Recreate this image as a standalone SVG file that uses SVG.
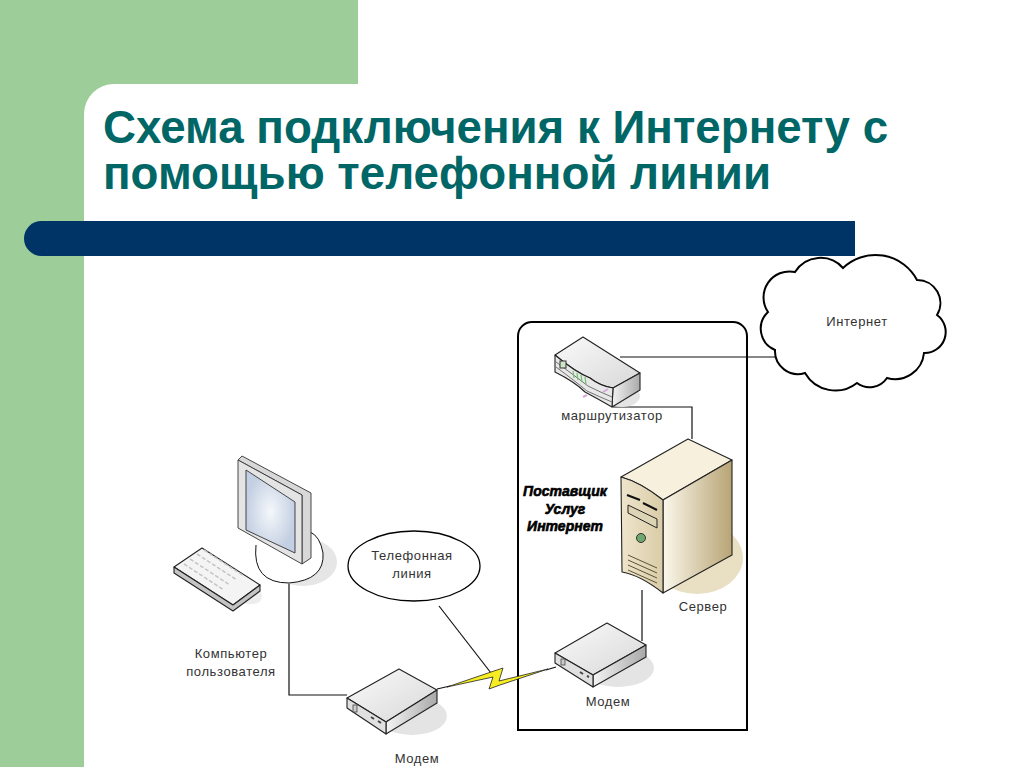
<svg xmlns="http://www.w3.org/2000/svg" width="1024" height="767" viewBox="0 0 1024 767">
<style>
.title{font:bold 45.7px "Liberation Sans",Arial,sans-serif;fill:#006666}
.lbl{font:13px "Liberation Sans",Arial,sans-serif;fill:#333;text-anchor:middle;letter-spacing:.6px}
.prov{font:italic bold 14px "Liberation Sans",Arial,sans-serif;fill:#000;stroke:#000;stroke-width:.6;text-anchor:middle}
.out{stroke:#222;stroke-width:1.1;stroke-linejoin:round}
.con{fill:none;stroke:#111;stroke-width:1.2}
</style>
<defs>
<linearGradient id="top" x1="0" y1="0" x2="1" y2="1"><stop offset="0" stop-color="#fafafa"/><stop offset="1" stop-color="#d8d8d8"/></linearGradient>
<linearGradient id="side" x1="0" y1="0" x2="1" y2="0"><stop offset="0" stop-color="#f4f4f4"/><stop offset="1" stop-color="#a9a9a9"/></linearGradient>
<linearGradient id="tan" x1="0" y1="0" x2="1" y2="0"><stop offset="0" stop-color="#efe5cb"/><stop offset="1" stop-color="#d9cca8"/></linearGradient>
<linearGradient id="tanr" x1="0" y1="0" x2="1" y2="0"><stop offset="0" stop-color="#fbf7ea"/><stop offset="1" stop-color="#b8a475"/></linearGradient>
<radialGradient id="scr"><stop offset="0" stop-color="#f5f8fb"/><stop offset="1" stop-color="#c3cfe2"/></radialGradient>
</defs>
<rect width="1024" height="767" fill="#fff"/>
<g id="background">
<path d="M0 0H358V84H114A30 30 0 0 0 84 114V767H0Z" fill="#9dcd99"/>
<path d="M41.500 221H855V256H41.500A17.500 17.500 0 0 1 41.500 221Z" fill="#003366"/>
</g>
<g id="title">
<text class="title" x="103" y="143">Схема подключения к Интернету с</text>
<text class="title" x="103" y="189">помощью телефонной линии</text>
</g>
<g id="connectors">
<path class="con" d="M289 583V695H347"/>
<path class="con" d="M613 407H692V439"/>
<path class="con" d="M620 357H776" stroke="#444" stroke-width="1"/>
<path class="con" d="M642 590V641" stroke="#555"/>
<path class="con" d="M439 606L491 673" stroke-width="1"/>
<path class="con" d="M437 689L450 686M546 670L556 667" stroke-width="1.500"/>
</g>
<g id="provider-box">
<path d="M518 730V336A14 14 0 0 1 532 322H733A14 14 0 0 1 747 336V730Z" fill="none" stroke="#000" stroke-width="2"/>
<text class="prov" x="565" y="496">Поставщик</text>
<text class="prov" x="565" y="514">Услуг</text>
<text class="prov" x="565" y="531">Интернет</text>
</g>
<g id="internet">
<path d="M768 312A26 26 0 0 1 795 272A30 30 0 0 1 843 268A47 47 0 0 1 917 280A23 23 0 0 1 937 315A21 21 0 0 1 924 353A29 29 0 0 1 887 378A21 21 0 0 1 857 383A35 35 0 0 1 805 373A23 23 0 0 1 775 350A23 23 0 0 1 768 312Z" fill="#fff" stroke="#000" stroke-width="2"/>
<text class="lbl" x="857" y="326">Интернет</text>
</g>
<g id="router">
<ellipse cx="622" cy="396" rx="18" ry="11" fill="#e4e4e4"/>
<path class="out" d="M583 337L640 373L613 388Q600 386 590 378Q575 372 555 355Z" fill="url(#top)"/>
<path class="out" d="M640 373V390L612 407L613 388Z" fill="url(#side)"/>
<path class="out" d="M555 355V372Q575 382 585 392Q600 400 612 407L613 388Q600 386 590 378Q575 372 555 355Z" fill="#e8e8e8"/>
<path d="M556 362Q575 376 588 386Q600 392 612 397M556 367Q575 381 587 391Q600 397 612 402" fill="none" stroke="#555" stroke-width=".8"/>
<rect x="560" y="361" width="6" height="7" fill="#cde4c8" stroke="#333" stroke-width="1"/>
<path d="M573 371l1 7M577 373l1 7M581 375l1 7M585 377l1 7" stroke="#6fc06f" stroke-width="1.200"/>
<path d="M603 392l5-3M583 397l4-2" stroke="#d8a8d8" stroke-width="2"/>
<text class="lbl" x="612" y="420">маршрутизатор</text>
</g>
<g id="server">
<ellipse cx="697" cy="558" rx="46" ry="36" fill="#e9e0c4"/>
<path class="out" d="M688 439L732 460L663 500Q640 482 621 477Z" fill="#f6f0dc"/>
<path class="out" d="M732 460V555L663 593V500Z" fill="url(#tanr)"/>
<path class="out" d="M621 477Q640 482 663 500V593Q640 575 622 572Z" fill="url(#tan)"/>
<path d="M627 495l13 5M643 503l14 7" stroke="#111" stroke-width="2"/>
<path d="M628 505L657 519V528L628 513Z" fill="#ddd3b5" stroke="#222"/>
<circle cx="641" cy="538" r="4.500" fill="#6fa86f" stroke="#333"/>
<path d="M628 555l29 13M628 560l29 13M628 565l29 13M628 570l29 13" stroke="#5c5238" stroke-width="1" fill="none"/>
<text class="lbl" x="703" y="611">Сервер</text>
</g>
<g id="modem-isp">
<ellipse cx="618" cy="668" rx="36" ry="19" fill="#e4e4e4"/>
<path class="out" d="M607 623L646 645L593 675L555 653Z" fill="url(#top)"/>
<path class="out" d="M646 645V657L593 687V675Z" fill="url(#side)"/>
<path class="out" d="M555 653V663L593 687V675Z" fill="#e0e0e0"/>
<rect x="561" y="659" width="4" height="6" fill="#ccc" stroke="#444" stroke-width=".8"/>
<path d="M580 672l3 2M587 676l2 1" stroke="#444" stroke-width="2"/>
<text class="lbl" x="608" y="706">Модем</text>
</g>
<g id="modem-user">
<ellipse cx="412" cy="716" rx="35" ry="19" fill="#e4e4e4"/>
<path class="out" d="M399 669L437 690L386 722L347 698Z" fill="url(#top)"/>
<path class="out" d="M437 690V703L386 734V722Z" fill="url(#side)"/>
<path class="out" d="M347 698V708L386 734V722Z" fill="#e0e0e0"/>
<rect x="353" y="705" width="4" height="7" fill="#ccc" stroke="#444" stroke-width=".8"/>
<path d="M371 717l3 2M378 721l3 2" stroke="#444" stroke-width="2"/>
<text class="lbl" x="417" y="763">Модем</text>
</g>
<g id="phone-line">
<ellipse cx="414" cy="566" rx="66" ry="35" fill="#fff" stroke="#000" stroke-width="1.300"/>
<text class="lbl" x="412" y="560">Телефонная</text>
<text class="lbl" x="412" y="578">линия</text>
</g>
<g id="lightning">
<path d="M447 687L491 672L503 668L499 681L548 669L500 685L489 689L493 677Z" fill="#f6ee22" stroke="#222" stroke-width=".8"/>
</g>
<g id="computer">
<ellipse cx="303" cy="562" rx="34" ry="24" fill="#e6e6e6"/>
<path d="M256 545Q252 583 289 583Q325 580 323 553Q320 536 310 532" fill="#fff" stroke="#111" stroke-width="1"/>
<path d="M238 460L242 456L311 493V558L302 564L302 495Z" fill="#d8d8d8" stroke="#333" stroke-width=".9" stroke-linejoin="round"/>
<path d="M238 460L302 495V564L238 528Z" fill="#e4e4e4" stroke="#333" stroke-width=".9" stroke-linejoin="round"/>
<path d="M246 470L295 502V553L246 530Z" fill="url(#scr)" stroke="#333" stroke-width=".9"/>
<ellipse cx="235" cy="585" rx="30" ry="14" fill="#ededed" transform="rotate(30 235 585)"/>
<path class="out" d="M202 548L260 585L233 605L174 567Z" fill="#f4f4f4"/>
<path class="out" d="M174 567V573L233 611L260 591V585L233 605Z" fill="#c4c4c4"/>
<path d="M190 559l40 26M197 554l40 26M204 550l40 26M184 564l40 26" stroke="#c4c4c4" stroke-width="1.500" stroke-dasharray="4 2" fill="none"/>
<text class="lbl" x="231" y="658">Компьютер</text>
<text class="lbl" x="231" y="676">пользователя</text>
</g>
</svg>
